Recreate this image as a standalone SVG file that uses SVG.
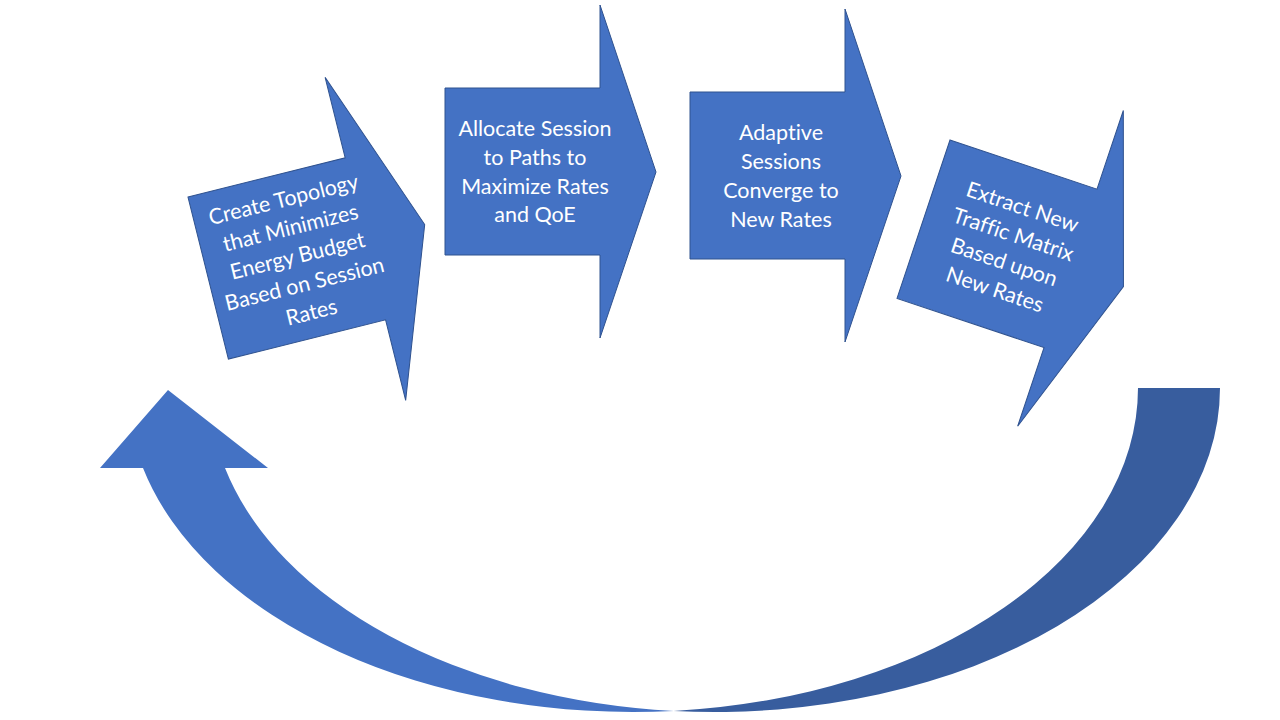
<svg xmlns="http://www.w3.org/2000/svg" width="1280" height="720" viewBox="0 0 1280 720">
<defs>
<style>
.blk{fill:#4472C4;stroke:#2F528F;stroke-width:1}
.t{font-family:Lato,"Liberation Sans",sans-serif;font-size:21.5px;fill:#FFFFFF;text-anchor:middle;font-variant-ligatures:none}
</style>
<path id="shape" d="M0,0 H155 V-83 L211,84 L155,250 V167 H0 Z"/>
<path id="shape1" d="M0,0 H162 V-83 L223,84 L162,250 V167 H0 Z"/>
</defs>
<rect width="1280" height="720" fill="#FFFFFF"/>
<g id="connectors">
<path d="M1220,388 A505.3,324 0 0 1 673.7,710.9 A505.3,324 0 0 0 1138,388 Z" fill="#385D9E"/>
<path d="M673.7,710.9 A505.3,324 0 0 1 143,468 L100,468 L168,390 L268,468 L225,468 A505.3,324 0 0 0 673.7,710.9 Z" fill="#4472C4"/>
</g>
<g id="node1" transform="translate(188,197) rotate(-14)">
<use href="#shape1" class="blk"/>
<text class="t"><tspan x="92" y="33">Create Topology</tspan><tspan x="92" y="62">that Minimizes</tspan><tspan x="92" y="91">Energy Budget</tspan><tspan x="92" y="120">Based on Session</tspan><tspan x="92" y="149">Rates</tspan></text>
</g>
<g id="node2" transform="translate(445,88)">
<use href="#shape" class="blk"/>
<text class="t"><tspan x="90" y="48">Allocate Session</tspan><tspan x="90" y="77">to Paths to</tspan><tspan x="90" y="106">Maximize Rates</tspan><tspan x="90" y="134">and QoE</tspan></text>
</g>
<g id="node3" transform="translate(690,92)">
<use href="#shape" class="blk"/>
<text class="t"><tspan x="91" y="48">Adaptive</tspan><tspan x="91" y="77">Sessions</tspan><tspan x="91" y="106">Converge to</tspan><tspan x="91" y="135">New Rates</tspan></text>
</g>
<g id="node4" transform="translate(950,140) rotate(18.5)">
<use href="#shape" class="blk"/>
<text class="t"><tspan x="90" y="48">Extract New</tspan><tspan x="90" y="77">Traffic Matrix</tspan><tspan x="90" y="106">Based upon</tspan><tspan x="90" y="135">New Rates</tspan></text>
</g>
</svg>
